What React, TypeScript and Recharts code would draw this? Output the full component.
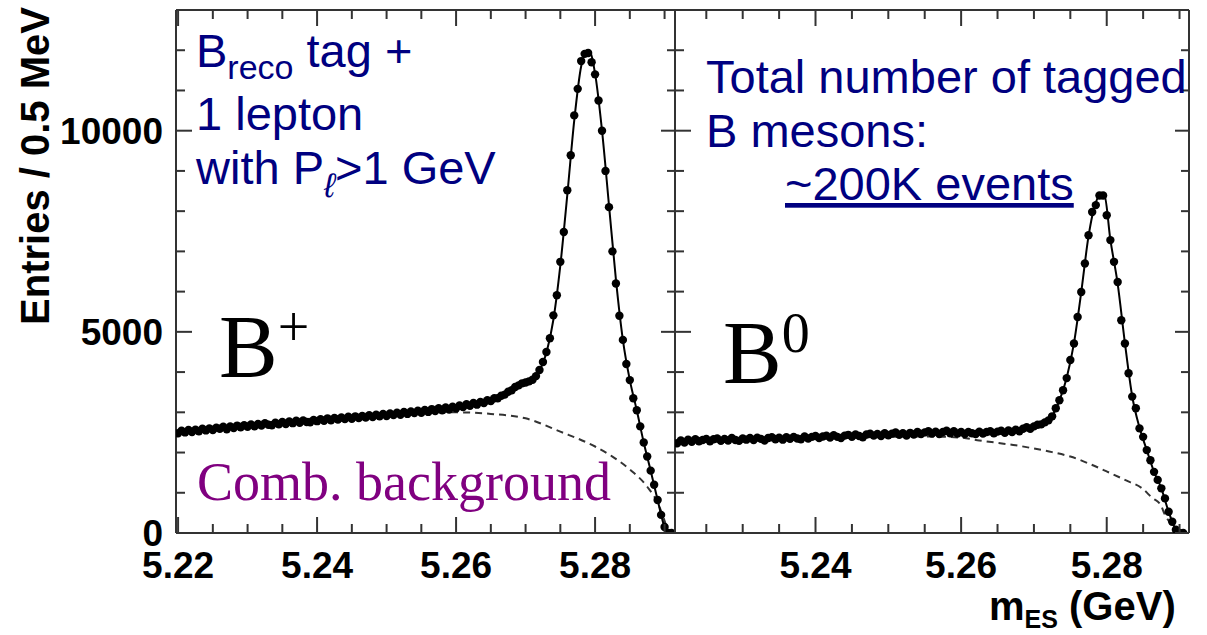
import React from 'react'
import { ComposedChart, Scatter, Line, XAxis, YAxis } from 'recharts'

// 0.5 MeV bins
const BIN_WIDTH = 0.0005

// B+ panel: entries per bin, first bin at 5.2200 GeV
const LEFT_FIRST_BIN = 5.22
const LEFT_COUNTS = [
  2480, 2540, 2500, 2560, 2510, 2570, 2530, 2590, 2550, 2600,
  2560, 2620, 2590, 2640, 2580, 2650, 2610, 2670, 2630, 2680,
  2640, 2700, 2650, 2710, 2670, 2730, 2690, 2680, 2740, 2700,
  2760, 2710, 2770, 2730, 2790, 2740, 2800, 2760, 2750, 2810,
  2780, 2830, 2790, 2850, 2800, 2860, 2820, 2870, 2830, 2890,
  2840, 2900, 2860, 2910, 2870, 2930, 2880, 2940, 2900, 2960,
  2910, 2970, 2930, 2990, 2940, 3010, 2960, 3020, 2980, 3040,
  2990, 3060, 3010, 3080, 3030, 3100, 3050, 3120, 3070, 3140,
  3100, 3170, 3130, 3200, 3160, 3230, 3190, 3260, 3230, 3300,
  3280, 3350, 3350, 3410, 3440, 3510, 3550, 3630, 3670, 3720,
  3740, 3770, 3810, 3900, 4050, 4250, 4500, 4840, 5410, 5910,
  6740, 7480, 8520, 9390, 10380, 11040, 11730, 11910, 11930, 11700,
  11400, 10750, 10000, 9000, 8100, 7000, 6200, 5400, 4800, 4200,
  3800, 3350, 3050, 2650, 2250, 1900, 1550, 1200, 820, 450,
  150, 0, 0,
]

// B0 panel: entries per bin, first bin at 5.2210 GeV
const RIGHT_FIRST_BIN = 5.221
const RIGHT_COUNTS = [
  2230, 2300, 2250, 2320, 2270, 2330, 2280, 2310, 2340, 2280,
  2330, 2350, 2290, 2340, 2300, 2360, 2310, 2290, 2350, 2320,
  2360, 2310, 2370, 2340, 2300, 2360, 2380, 2330, 2370, 2320,
  2380, 2340, 2390, 2350, 2330, 2400, 2350, 2390, 2410, 2360,
  2400, 2420, 2370, 2430, 2390, 2360, 2420, 2440, 2390, 2450,
  2410, 2380, 2450, 2470, 2420, 2460, 2410, 2480, 2430, 2470,
  2500, 2440, 2480, 2420, 2490, 2450, 2510, 2460, 2500, 2530,
  2470, 2520, 2460, 2510, 2540, 2480, 2530, 2470, 2510, 2460,
  2510, 2480, 2460, 2520, 2470, 2510, 2530, 2480, 2520, 2540,
  2490, 2550, 2510, 2570, 2530, 2590, 2630, 2590, 2650, 2690,
  2700, 2750, 2800, 2900, 3100, 3300, 3550, 3850, 4300, 4710,
  5370, 5990, 6700, 7400, 7980, 8150, 8390, 8390, 7900, 7280,
  6740, 6240, 5290, 4710, 3970, 3390, 3100, 2600, 2390, 2060,
  1810, 1520, 1320, 1110, 860, 530, 280, 80, 0, 0,
]

// total fit (solid) and combinatorial background (dashed)
const LEFT_FIT_X = [
  5.2197, 5.225, 5.23, 5.235, 5.24, 5.245, 5.25, 5.255, 5.26, 5.2625, 5.265, 5.2675,
  5.27, 5.271, 5.272, 5.273, 5.274, 5.275, 5.276, 5.277, 5.278, 5.2787, 5.2792, 5.28,
  5.281, 5.282, 5.283, 5.284, 5.285, 5.286, 5.287, 5.288, 5.289, 5.29, 5.2905, 5.2915,
]
const LEFT_FIT_Y = [
  2500, 2610, 2690, 2760, 2820, 2880, 2950, 3030, 3140, 3210, 3310, 3480,
  3730, 3820, 4030, 4480, 5300, 6650, 8400, 10250, 11600, 11950, 11960, 11420,
  10000, 8150, 6300, 4800, 3800, 3050, 2250, 1550, 820, 150, 0, 0,
]
const LEFT_BKG_X = [
  5.2197, 5.225, 5.23, 5.235, 5.24, 5.245, 5.25, 5.255, 5.26, 5.265, 5.27, 5.275,
  5.28, 5.2825, 5.285, 5.2875, 5.289, 5.29, 5.2905,
]
const LEFT_BKG_Y = [
  2500, 2610, 2700, 2780, 2850, 2910, 2960, 2995, 3000, 2960, 2850, 2520,
  2150, 1900, 1580, 1150, 750, 300, 0,
]

const RIGHT_FIT_X = [
  5.2207, 5.23, 5.24, 5.25, 5.26, 5.265, 5.268, 5.27, 5.2715, 5.2725, 5.2735, 5.2745,
  5.2755, 5.2765, 5.2775, 5.2785, 5.2792, 5.2797, 5.2805, 5.2815, 5.2825, 5.2835,
  5.2845, 5.2855, 5.2865, 5.2875, 5.2885, 5.2895, 5.29, 5.2913,
]
const RIGHT_FIT_Y = [
  2280, 2330, 2380, 2450, 2490, 2520, 2580, 2650, 2760, 2910, 3290, 3860,
  4720, 5990, 7380, 8220, 8410, 8380, 7290, 6200, 4720, 3400,
  2620, 2060, 1520, 1110, 530, 80, 0, 0,
]
const RIGHT_BKG_X = [
  5.2207, 5.23, 5.24, 5.25, 5.255, 5.26, 5.2625, 5.265, 5.2675, 5.27, 5.2725, 5.275,
  5.2775, 5.28, 5.2825, 5.285, 5.2862, 5.2874, 5.288, 5.2887, 5.2895,
]
const RIGHT_BKG_Y = [
  2270, 2320, 2360, 2390, 2400, 2370, 2300, 2240, 2180, 2100, 2010, 1900,
  1730, 1530, 1320, 1090, 880, 700, 450, 250, 0,
]

const LEFT_X_TICKS = [
  5.22, 5.225, 5.23, 5.235, 5.24, 5.245, 5.25, 5.255, 5.26, 5.265, 5.27, 5.275, 5.28, 5.285, 5.29,
]
const RIGHT_X_TICKS = [
  5.225, 5.23, 5.235, 5.24, 5.245, 5.25, 5.255, 5.26, 5.265, 5.27, 5.275, 5.28, 5.285, 5.29,
]
const Y_TICKS = [0, 1000, 2000, 3000, 4000, 5000, 6000, 7000, 8000, 9000, 10000, 11000, 12000]
const Y_DOMAIN = [0, 13000]
const LEFT_DOMAIN = [5.2197, 5.2915]
const RIGHT_DOMAIN = [5.2207, 5.2913]

const AXIS = '#333'
const NAVY = '#000080'
const PURPLE = '#800080'
const SANS = '"Liberation Sans", Arial, Helvetica, sans-serif'
const SERIF = '"Liberation Serif", "Times New Roman", serif'

// plot frames (page pixels)
const PLOT_TOP = 10
const PLOT_BOTTOM = 533
const LEFT_PLOT = { x0: 176, x1: 675 }
const RIGHT_PLOT = { x0: 675, x1: 1189 }

const isMajorX = (v: number) => Math.abs(v * 50 - Math.round(v * 50)) < 1e-6
const isMajorY = (v: number) => v % 5000 === 0

function BottomLabel({ x, y, payload }: any) {
  if (!isMajorX(payload.value)) return <g />
  return (
    <text x={x} y={Number(y) + 45} textAnchor="middle" fontFamily={SANS} fontWeight="bold" fontSize={37} fill="#000">
      {payload.value.toFixed(2)}
    </text>
  )
}

function LeftLabel({ x, y, payload }: any) {
  if (!isMajorY(payload.value)) return <g />
  return (
    <text x={Number(x) - 13} y={y} dy="0.36em" textAnchor="end" fontFamily={SANS} fontWeight="bold" fontSize={37} fill="#000">
      {payload.value}
    </text>
  )
}

const Dot = (props: any) => <circle cx={props.cx} cy={props.cy} r={4.2} fill="#000" />

const axisLine = { stroke: AXIS, strokeWidth: 2 }

// inward tick marks on all four sides of one frame (linear map, same domains as the axes)
function FrameTicks({ plot, domain, xTicks }: any) {
  const sx = (v: number) => plot.x0 + ((v - domain[0]) / (domain[1] - domain[0])) * (plot.x1 - plot.x0)
  const sy = (v: number) =>
    PLOT_BOTTOM - ((v - Y_DOMAIN[0]) / (Y_DOMAIN[1] - Y_DOMAIN[0])) * (PLOT_BOTTOM - PLOT_TOP)
  return (
    <g stroke={AXIS} strokeWidth={2}>
      {xTicks.map((t: number) => {
        const x = sx(t)
        const len = isMajorX(t) ? 16 : 9
        return (
          <g key={`x${t}`}>
            <line x1={x} x2={x} y1={PLOT_BOTTOM} y2={PLOT_BOTTOM - len} />
            <line x1={x} x2={x} y1={PLOT_TOP} y2={PLOT_TOP + len} />
          </g>
        )
      })}
      {Y_TICKS.map((v) => {
        const y = sy(v)
        const major = isMajorY(v)
        return (
          <g key={`y${v}`}>
            <line x1={plot.x0} x2={plot.x0 + (major ? 16 : 9)} y1={y} y2={y} />
            <line x1={plot.x1} x2={plot.x1 - (major ? 14 : 8)} y1={y} y2={y} />
          </g>
        )
      })}
    </g>
  )
}

function Panel({ left, width, yAxisWidth, domain, xTicks, points, fit, bkg, labels }: any) {
  return (
    <div style={{ position: 'absolute', left, top: 0 }}>
      <ComposedChart width={width} height={635} margin={{ top: PLOT_TOP - 1, right: 0, bottom: 42, left: 0 }}>
        <XAxis
          xAxisId="b"
          dataKey="x"
          type="number"
          domain={domain}
          ticks={xTicks}
          interval={0}
          allowDataOverflow
          height={60}
          tickSize={0}
          tickMargin={0}
          tickLine={false}
          axisLine={axisLine}
          tick={(p: any) => <BottomLabel {...p} />}
        />
        <XAxis
          xAxisId="t"
          orientation="top"
          dataKey="x"
          type="number"
          domain={domain}
          ticks={xTicks}
          allowDataOverflow
          height={1}
          tickLine={false}
          axisLine={axisLine}
          tick={false}
        />
        <YAxis
          yAxisId="l"
          type="number"
          domain={Y_DOMAIN}
          ticks={Y_TICKS}
          interval={0}
          allowDataOverflow
          width={yAxisWidth}
          tickSize={0}
          tickMargin={0}
          tickLine={false}
          axisLine={axisLine}
          tick={labels ? (p: any) => <LeftLabel {...p} /> : false}
        />
        <YAxis
          yAxisId="r"
          orientation="right"
          type="number"
          domain={Y_DOMAIN}
          ticks={Y_TICKS}
          allowDataOverflow
          width={1}
          tickLine={false}
          axisLine={axisLine}
          tick={false}
        />
        <Line
          xAxisId="b"
          yAxisId="l"
          data={bkg}
          dataKey="y"
          type="monotone"
          stroke="#333"
          strokeWidth={2}
          strokeDasharray="7 5"
          dot={false}
          activeDot={false}
          isAnimationActive={false}
        />
        <Line
          xAxisId="b"
          yAxisId="l"
          data={fit}
          dataKey="y"
          type="monotone"
          stroke="#000"
          strokeWidth={2}
          dot={false}
          activeDot={false}
          isAnimationActive={false}
        />
        <Scatter xAxisId="b" yAxisId="l" data={points} dataKey="y" shape={Dot} isAnimationActive={false} />
      </ComposedChart>
    </div>
  )
}

const toPoints = (first: number, counts: number[]) =>
  counts.map((y, i) => ({ x: first + i * BIN_WIDTH, y }))
const zip = (xs: number[], ys: number[]) => xs.map((x, i) => ({ x, y: ys[i] }))

export default function App() {
  return (
    <div style={{ position: 'absolute', left: 0, top: 0, width: 1207, height: 635, background: '#fff' }}>
      <Panel
        left={0}
        width={676}
        yAxisWidth={176}
        domain={LEFT_DOMAIN}
        xTicks={LEFT_X_TICKS}
        points={toPoints(LEFT_FIRST_BIN, LEFT_COUNTS)}
        fit={zip(LEFT_FIT_X, LEFT_FIT_Y)}
        bkg={zip(LEFT_BKG_X, LEFT_BKG_Y)}
        labels
      />
      <Panel
        left={674}
        width={516}
        yAxisWidth={1}
        domain={RIGHT_DOMAIN}
        xTicks={RIGHT_X_TICKS}
        points={toPoints(RIGHT_FIRST_BIN, RIGHT_COUNTS)}
        fit={zip(RIGHT_FIT_X, RIGHT_FIT_Y)}
        bkg={zip(RIGHT_BKG_X, RIGHT_BKG_Y)}
        labels={false}
      />
      <svg
        width={1207}
        height={635}
        style={{ position: 'absolute', left: 0, top: 0, pointerEvents: 'none' }}
      >
        <FrameTicks plot={LEFT_PLOT} domain={LEFT_DOMAIN} xTicks={LEFT_X_TICKS} />
        <FrameTicks plot={RIGHT_PLOT} domain={RIGHT_DOMAIN} xTicks={RIGHT_X_TICKS} />

        <text
          transform="translate(49,166) rotate(-90)"
          textAnchor="middle"
          fontFamily={SANS}
          fontWeight="bold"
          fontSize={40}
          fill="#000"
        >
          Entries / 0.5 MeV
        </text>
        <text x={989} y={620} fontFamily={SANS} fontWeight="bold" fontSize={40} fill="#000">
          m<tspan fontSize={25} dy={8}>ES</tspan>
          <tspan dy={-8}> (GeV)</tspan>
        </text>

        <g fontFamily={SANS} fontSize={47} fill={NAVY}>
          <text x={196} y={67}>
            B<tspan fontSize={34} dy={12}>reco</tspan>
            <tspan dy={-12}> tag +</tspan>
          </text>
          <text x={196} y={130}>1 lepton</text>
          <text x={196} y={184}>
            with P<tspan fontSize={34} dy={13} fontStyle="italic">ℓ</tspan>
            <tspan dy={-13}>&gt;1 GeV</tspan>
          </text>
          <text x={706} y={93}>Total number of tagged</text>
          <text x={706} y={147}>B mesons:</text>
          <text x={785} y={200} style={{ textDecoration: 'underline' }}>~200K events</text>
        </g>

        <g fontFamily={SERIF} fill="#000">
          <text x={219} y={376} fontSize={88}>
            B<tspan fontSize={56} dy={-30}>+</tspan>
          </text>
          <text x={723} y={382} fontSize={88}>
            B<tspan fontSize={56} dy={-30}>0</tspan>
          </text>
        </g>
        <text x={197} y={500} fontFamily={SERIF} fontSize={54} fill={PURPLE}>
          Comb. background
        </text>
      </svg>
    </div>
  )
}
